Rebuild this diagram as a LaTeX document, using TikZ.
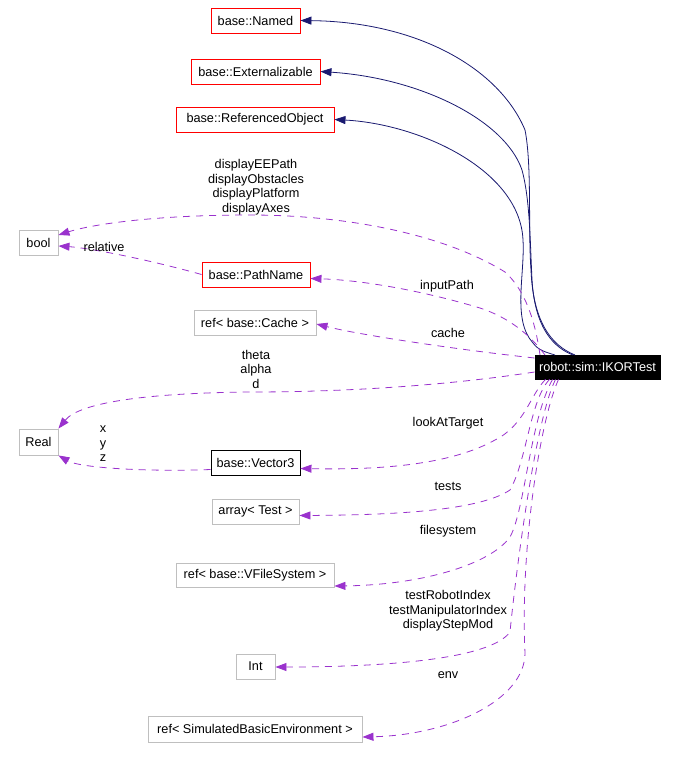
\documentclass[tikz,border=0pt]{standalone}
\usepackage{fontspec}
\setmainfont{Liberation Sans}
\usetikzlibrary{arrows.meta}
\definecolor{inhblue}{HTML}{191970}
\definecolor{usepurple}{HTML}{9A32CD}
\definecolor{boxgrey}{HTML}{BFBFBF}
\tikzset{
  cls/.style={draw, line width=0.9pt, inner sep=0pt, minimum height=25pt, font=\fontsize{12.7}{14}\selectfont},
  redbox/.style={cls, draw=red},
  greybox/.style={cls, draw=boxgrey},
  blackbox/.style={cls, draw=black},
  mainbox/.style={cls, fill=black, text=white, draw=black},
  inh/.style={draw=inhblue, line width=0.8pt, -{Triangle[length=11pt,width=8pt]}},
  use/.style={draw=usepurple, line width=0.8pt, dash pattern=on 7pt off 6pt, -{Triangle[length=11pt,width=8pt,fill=usepurple]}},
  lbl/.style={font=\fontsize{12.7}{14.5}\selectfont, align=center, inner sep=0pt}
}
\begin{document}
\begin{tikzpicture}[x=1pt,y=-1pt]
\useasboundingbox (0,0) rectangle (678,759);
% nodes
\node[redbox, minimum width=89pt] (named) at (255.5,20.5) {base::Named};
\node[redbox, minimum width=129pt] (ext) at (255.5,71.5) {base::Externalizable};
\node[redbox, minimum width=158pt] (refobj) at (255,119.5) {base::ReferencedObject};
\node[greybox, minimum width=39pt] (bool) at (38.5,242.5) {bool};
\node[redbox, minimum width=108pt] (pathname) at (256,274.5) {base::PathName};
\node[greybox, minimum width=122pt] (cache) at (255,323) {ref< base::Cache >};
\node[mainbox, minimum width=125pt, minimum height=24pt] (ik) at (597.5,367) {robot::sim::IKORTest};
\node[greybox, minimum width=39pt, minimum height=26pt] (real) at (38.5,442) {Real};
\node[blackbox, minimum width=89pt] (vec) at (255.5,462.5) {base::Vector3};
\node[greybox, minimum width=87pt] (array) at (255.5,511.5) {array< Test >};
\node[greybox, minimum width=158pt, minimum height=24pt] (vfs) at (255,575) {ref< base::VFileSystem >};
\node[greybox, minimum width=39pt] (int) at (255.5,666.5) {Int};
\node[greybox, minimum width=214pt, minimum height=26pt] (env) at (255,729) {ref< SimulatedBasicEnvironment >};
% anchor coordinates
\coordinate (ikT1) at (575,355);
\coordinate (ikT2) at (573,355);
\coordinate (ikT3) at (555,355);
\coordinate (ikT4) at (540,355);
\coordinate (ikT5) at (545,355);
% inheritance edges
\draw[inh] (ikT1) .. controls (550,345) and (533,320) .. (531,270)
  .. controls (528,230) and (532,165) .. (525,130)
  .. controls (500,70) and (420,22) .. (named.east);
\draw[inh] (ikT2) .. controls (555,348) and (535,330) .. (532,280)
  .. controls (530,240) and (530,200) .. (522,170)
  .. controls (505,120) and (420,78) .. (ext.east);
\draw[inh] (ikT3) .. controls (545,352) and (538,350) .. (533,343)
  .. controls (512,320) and (525,275) .. (523,240)
  .. controls (520,170) and (420,124) .. (refobj.east);
% usage edges
\draw[use] (ikT4) .. controls (535,320) and (525,290) .. (505,272)
  .. controls (440,232) and (340,215) .. (250,215)
  .. controls (150,215) and (90,225) .. ([yshift=7.5pt]bool.east);
\draw[use] (pathname.west) .. controls (150,260) and (90,248) .. ([yshift=-3.5pt]bool.east);
\draw[use] (ikT5) .. controls (530,335) and (510,318) .. (480,308)
  .. controls (420,290) and (360,280) .. ([yshift=-4pt]pathname.east);
\draw[use] ([yshift=9pt]ik.west) .. controls (460,350) and (360,335) .. ([yshift=-1pt]cache.east);
\draw[use] ([yshift=-5pt]ik.west) .. controls (450,385) and (350,392) .. (250,392)
  .. controls (150,393) and (80,402) .. (real.north east);
\draw[use] ([yshift=-7pt]vec.west) .. controls (150,472) and (80,468) .. (real.south east);
\draw[use] ([xshift=-52pt]ik.south) .. controls (530,395) and (525,425) .. (495,440)
  .. controls (450,465) and (380,470) .. ([yshift=-6pt]vec.east);
\draw[use] ([xshift=-48pt]ik.south) .. controls (530,400) and (527,460) .. (510,490)
  .. controls (480,510) and (400,515) .. ([yshift=-4pt]array.east);
\draw[use] ([xshift=-45pt]ik.south) .. controls (530,420) and (525,510) .. (510,537)
  .. controls (490,565) and (420,585) .. ([yshift=-11pt]vfs.east);
\draw[use] ([xshift=-42pt]ik.south) .. controls (535,420) and (515,580) .. (510,632)
  .. controls (490,660) and (380,667) .. ([yshift=-0.5pt]int.east);
\draw[use] ([xshift=-39pt]ik.south) .. controls (540,420) and (520,550) .. (525,653)
  .. controls (525,700) and (450,735) .. ([yshift=-8pt]env.east);
% labels
\node[lbl] (l1) at (256,187) {displayEEPath\\displayObstacles\\displayPlatform\\displayAxes};
\node[lbl] (l2) at (104,247) {relative};
\node[lbl] (l3) at (447,286) {inputPath};
\node[lbl] (l4) at (448,333) {cache};
\node[lbl] (l5) at (256,369) {theta\\alpha\\d};
\node[lbl] (l6) at (103,444) {x\\y\\z};
\node[lbl] (l7) at (448,423) {lookAtTarget};
\node[lbl] (l8) at (448,486) {tests};
\node[lbl] (l9) at (448,531) {filesystem};
\node[lbl] (l10) at (448,611) {testRobotIndex\\testManipulatorIndex\\displayStepMod};
\node[lbl] (l11) at (448,675) {env};
\end{tikzpicture}
\end{document}
